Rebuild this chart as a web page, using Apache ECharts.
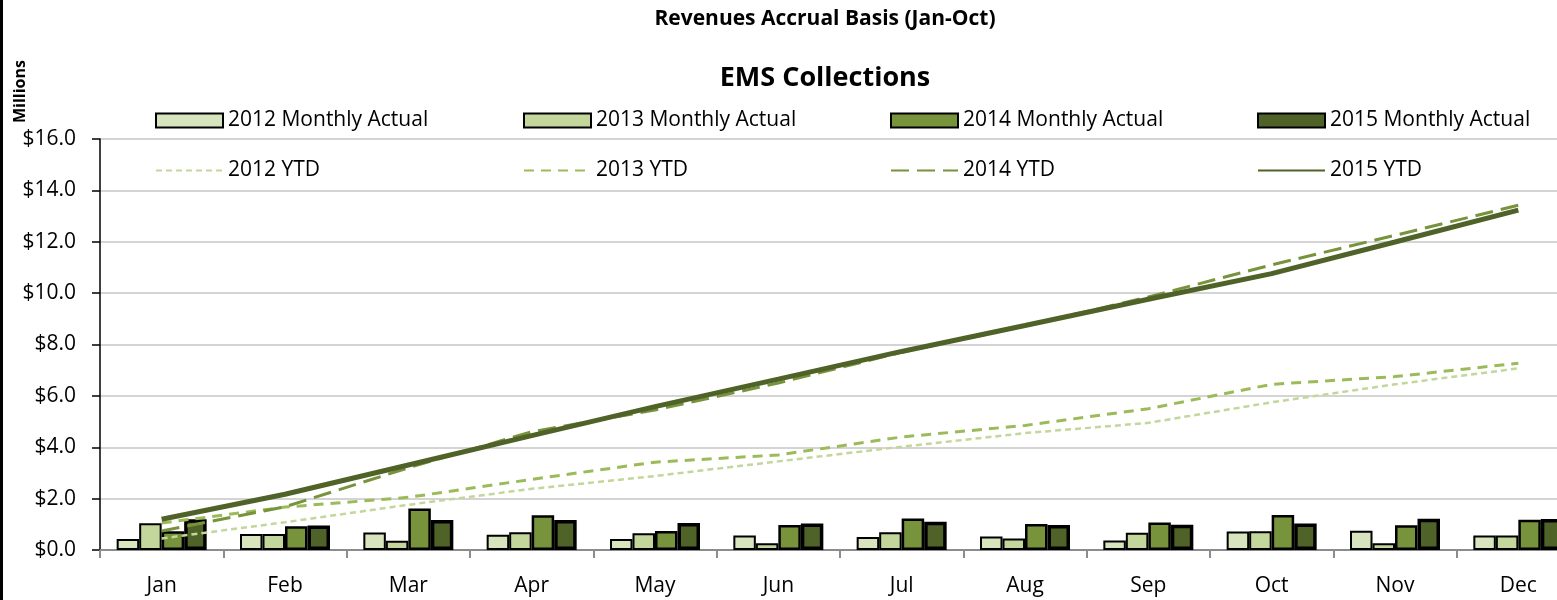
<!DOCTYPE html>
<html>
<head>
<meta charset="utf-8">
<title>EMS Collections</title>
<script src="https://cdn.jsdelivr.net/npm/echarts@6/dist/echarts.min.js"></script>
<style>
  html, body { margin: 0; padding: 0; background: #fff; }
  #chart { width: 1557px; height: 600px; }
</style>
</head>
<body>
<div id="chart"></div>
<script>
// ===================================================
//  DATOS
// ===================================================
const months = ['Jan', 'Feb', 'Mar', 'Apr', 'May', 'Jun', 'Jul', 'Aug', 'Sep', 'Oct', 'Nov', 'Dec'];
const yTicks = [0, 2, 4, 6, 8, 10, 12, 14, 16];

const monthly2012 = [0.43, 0.62, 0.68, 0.59, 0.43, 0.56, 0.51, 0.53, 0.37, 0.72, 0.75, 0.56];
const monthly2013 = [1.04, 0.62, 0.36, 0.69, 0.65, 0.26, 0.69, 0.45, 0.67, 0.73, 0.26, 0.56];
const monthly2014 = [0.73, 0.92, 1.62, 1.35, 0.74, 0.97, 1.23, 1.01, 1.07, 1.36, 0.96, 1.18];
const monthly2015 = [1.20, 0.95, 1.17, 1.17, 1.05, 1.03, 1.10, 0.97, 0.98, 1.03, 1.22, 1.21];

const ytd2012 = [0.45, 1.08, 1.76, 2.38, 2.88, 3.45, 4.02, 4.55, 4.95, 5.75, 6.45, 7.07];
const ytd2013 = [1.05, 1.67, 2.05, 2.75, 3.42, 3.70, 4.40, 4.85, 5.50, 6.45, 6.75, 7.27];
const ytd2014 = [0.74, 1.68, 3.20, 4.60, 5.45, 6.50, 7.70, 8.72, 9.85, 11.10, 12.25, 13.42];
const ytd2015 = [1.20, 2.17, 3.31, 4.45, 5.58, 6.65, 7.73, 8.74, 9.76, 10.76, 11.99, 13.23];

// ===================================================
//  GRÁFICO
// ===================================================
(function () {
    const el = document.getElementById('chart');
    const chart = echarts.init(el);
    const font = 'Open Sans';

    // una leyenda por elemento para fijar su posición
    function legendAt(name, left, top, isLine) {
        const lg = {
            data: [name],
            left: left,
            top: top,
            padding: 0,
            itemWidth: 67,
            itemHeight: 14,
            itemGap: 8,
            textStyle: { fontFamily: font, fontSize: 21, color: '#000' },
            selectedMode: false
        };
        if (isLine) {
            // ocultar el círculo del icono de línea
            lg.itemStyle = { color: 'rgba(0,0,0,0)', borderColor: 'rgba(0,0,0,0)', borderWidth: 0 };
        } else {
            lg.icon = 'rect';
        }
        return lg;
    }

    function barSeries(name, data, color, bw) {
        return {
            name: name,
            type: 'bar',
            data: data,
            barGap: '0%',
            barWidth: 22.5,
            itemStyle: { color: color, borderColor: '#000', borderWidth: bw },
            z: 2
        };
    }

    function lineSeries(name, data, color, width, type) {
        return {
            name: name,
            type: 'line',
            data: data,
            symbol: 'none',
            lineStyle: { color: color, width: width, type: type, cap: 'butt' },
            itemStyle: { color: color },
            z: 5
        };
    }

    const option = {
        animation: false,
        backgroundColor: '#fff',
        textStyle: { fontFamily: font },
        title: [
            {
                text: 'Revenues Accrual Basis (Jan-Oct)',
                left: 820, top: 4, textAlign: 'center',
                textStyle: { fontFamily: font, fontSize: 21, fontWeight: 'bold', color: '#000' }
            },
            {
                text: 'EMS Collections',
                left: 820, top: 60, textAlign: 'center',
                textStyle: { fontFamily: font, fontSize: 27, fontWeight: 'bold', color: '#000' }
            }
        ],
        legend: [
            legendAt('2012 Monthly Actual', 155, 110),
            legendAt('2013 Monthly Actual', 523, 110),
            legendAt('2014 Monthly Actual', 890, 110),
            legendAt('2015 Monthly Actual', 1257, 110),
            legendAt('2012 YTD', 155, 160, true),
            legendAt('2013 YTD', 523, 160, true),
            legendAt('2014 YTD', 890, 160, true),
            legendAt('2015 YTD', 1257, 160, true)
        ],
        graphic: [
            {
                type: 'text',
                left: 12, top: 60,
                rotation: Math.PI / 2,
                style: { text: 'Millions', font: 'bold 16px "Open Sans"', fill: '#000' }
            },
            {
                type: 'rect',
                left: 0, top: 0,
                shape: { width: 3, height: 600 },
                style: { fill: '#000' }
            }
        ],
        grid: {
            left: 100, width: 1480, top: 139, height: 411,
            containLabel: false, outerBoundsMode: 'none'
        },
        xAxis: {
            type: 'category',
            data: months,
            axisLine: { lineStyle: { color: '#8c8c8c', width: 2 } },
            axisTick: { show: true, length: 8, lineStyle: { color: '#8c8c8c', width: 2 } },
            axisLabel: { fontFamily: font, fontSize: 21, color: '#000', margin: 26 }
        },
        yAxis: {
            type: 'value',
            min: yTicks[0],
            max: yTicks[yTicks.length - 1],
            interval: 2,
            axisLine: { show: true, lineStyle: { color: '#000', width: 1.5 } },
            axisTick: { show: true, length: 8, lineStyle: { color: '#000', width: 1.5 } },
            splitLine: { lineStyle: { color: '#d4d4d4', width: 2 } },
            axisLabel: {
                fontFamily: font, fontSize: 21, color: '#000', margin: 24,
                formatter: v => '$' + v.toFixed(1)
            }
        },
        series: [
            barSeries('2012 Monthly Actual', monthly2012, '#d7e4bd', 2),
            barSeries('2013 Monthly Actual', monthly2013, '#c3d69b', 2),
            barSeries('2014 Monthly Actual', monthly2014, '#77933c', 2.5),
            barSeries('2015 Monthly Actual', monthly2015, '#4f6228', 3.5),
            lineSeries('2012 YTD', ytd2012, '#c3d69b', 2.5, [6, 4]),
            lineSeries('2013 YTD', ytd2013, '#9bbb59', 3, [10, 7]),
            lineSeries('2014 YTD', ytd2014, '#77933c', 3, [18, 8]),
            lineSeries('2015 YTD', ytd2015, '#4f6228', 5, 'solid')
        ]
    };

    chart.setOption(option);
})();
</script>
</body>
</html>
